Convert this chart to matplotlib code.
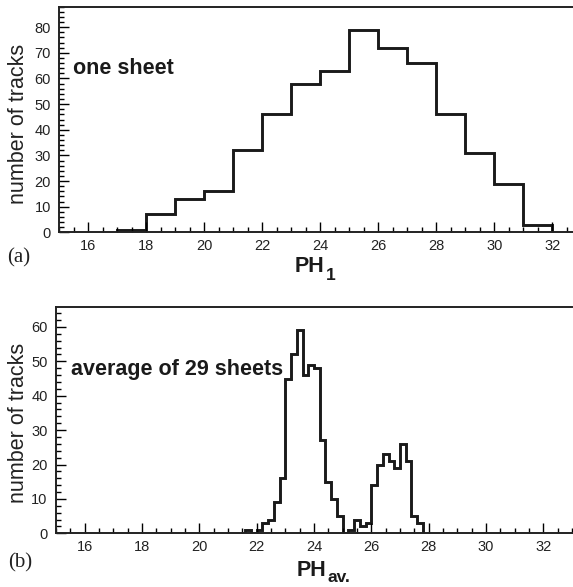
import numpy as np
import matplotlib
matplotlib.use('Agg')
import matplotlib.pyplot as plt
from matplotlib.ticker import MultipleLocator

plt.rcParams['font.family'] = ['Liberation Sans', 'DejaVu Sans']

# one sheet, 1 unit bins
ph1_edges = [17, 18, 19, 20, 21, 22, 23, 24, 25, 26, 27, 28, 29, 30, 31, 32]
ph1_counts = [1, 7, 13, 16, 32, 46, 58, 63, 79, 72, 66, 46, 31, 19, 3]

# average of 29 sheets, 0.2 unit bins starting at 21.6
ph_av_edges = np.round(np.arange(21.6, 27.81, 0.2), 1)
ph_av_counts = [1, 0, 1, 3, 4, 9, 16, 45, 52, 59, 46, 49, 48, 27, 15, 10, 5,
                0, 1, 4, 2, 3, 14, 20, 23, 21, 19, 26, 21, 5, 3]

x_ticks = [16, 18, 20, 22, 24, 26, 28, 30, 32]

W, H = 573, 587
fig = plt.figure(figsize=(W / 100, H / 100), dpi=100)


def style_axes(ax, ymax):
    ax.set_xlim(15, 33)
    ax.set_ylim(0, ymax)
    ax.set_xticks(x_ticks)
    ax.xaxis.set_minor_locator(MultipleLocator(0.5))
    ax.yaxis.set_major_locator(MultipleLocator(10))
    ax.yaxis.set_minor_locator(MultipleLocator(2))
    ax.tick_params(which='both', direction='in', top=False, right=False,
                   width=1.0, labelsize=10.5, labelcolor='#222222')
    ax.tick_params(which='major', length=7)
    ax.tick_params(which='minor', length=3.5)
    ax.tick_params(axis='x', pad=4.5)
    ax.tick_params(axis='y', pad=6)
    ax.spines['right'].set_visible(False)
    for s in ['left', 'top', 'bottom']:
        ax.spines[s].set_linewidth(1.4)
        ax.spines[s].set_color('#222222')


# (a) one sheet
ax1 = fig.add_axes([59.3 / W, 1 - 232.3 / H, 522 / W, 225.6 / H])
ax1.stairs(ph1_counts, ph1_edges, color='#1a1a1a', linewidth=2.1)
style_axes(ax1, 88)
ax1.text(15.47, 61.8, 'one sheet', fontsize=15.5, fontweight='bold',
         va='baseline', color='#1a1a1a')

# (b) average of 29 sheets
ax2 = fig.add_axes([56 / W, 1 - 533.3 / H, 516 / W, 226 / H])
ax2.stairs(ph_av_counts, ph_av_edges, color='#1a1a1a', linewidth=2.1)
style_axes(ax2, 65.7)
ax2.text(15.52, 46, 'average of 29 sheets', fontsize=15.5, fontweight='bold',
         va='baseline', color='#1a1a1a')

# labels
for yc in (124, 423):
    fig.text(18.5 / W, 1 - yc / H, 'number of tracks', rotation=90,
             fontsize=15.5, ha='center', va='center', color='#222222')

fig.text(295 / W, 1 - 272 / H, 'PH', fontsize=15.5, fontweight='bold',
         ha='left', va='baseline', color='#1a1a1a')
fig.text(326 / W, 1 - 280 / H, '1', fontsize=12.5, fontweight='bold',
         ha='left', va='baseline', color='#1a1a1a')
fig.text(297 / W, 1 - 576 / H, 'PH', fontsize=15.5, fontweight='bold',
         ha='left', va='baseline', color='#1a1a1a')
fig.text(327 / W, 1 - 582 / H, 'av.', fontsize=12.5, fontweight='bold',
         ha='left', va='baseline', color='#1a1a1a')

fig.text(19 / W, 1 - 258 / H, '(a)', fontsize=15, family='Liberation Serif',
         ha='center', va='center', color='#222222')
fig.text(20 / W, 1 - 563 / H, '(b)', fontsize=15, family='Liberation Serif',
         ha='center', va='center', color='#222222')

fig.savefig('out.png', dpi=100)
